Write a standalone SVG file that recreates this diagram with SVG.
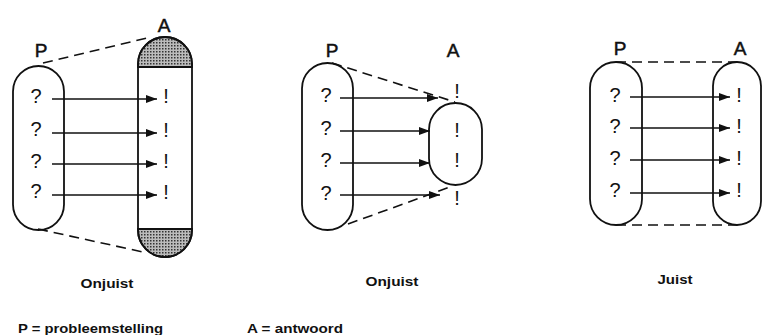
<svg xmlns="http://www.w3.org/2000/svg" width="763" height="335" viewBox="0 0 763 335">
<style>
.pill{fill:none;stroke:#111;stroke-width:1.8}
.dash{fill:none;stroke:#111;stroke-width:1.6;stroke-dasharray:10 6}
.arr{stroke:#111;stroke-width:1.6;fill:none;marker-end:url(#ah)}
.lab{font-family:"Liberation Sans",Arial,sans-serif;font-size:19px;fill:#111;stroke:#111;stroke-width:0.5;text-anchor:middle}
.sym{font-family:"Liberation Sans",Arial,sans-serif;font-size:20px;fill:#111;text-anchor:middle}
.cap{font-family:"Liberation Sans",Arial,sans-serif;font-size:13px;font-weight:bold;fill:#111;text-anchor:middle}
.leg{font-family:"Liberation Sans",Arial,sans-serif;font-size:13px;font-weight:bold;fill:#111}
.hatch{fill:url(#dots);stroke:#111;stroke-width:1.8}
</style>
<defs>
<marker id="ah" markerUnits="userSpaceOnUse" markerWidth="12" markerHeight="8" refX="11" refY="4" orient="auto">
<path d="M0,0 L11,4 L0,8 Z" fill="#111"/>
</marker>
<pattern id="dots" patternUnits="userSpaceOnUse" width="3" height="3">
<rect width="3" height="3" fill="#bbb"/>
<rect width="1.5" height="1.5" fill="#333"/>
</pattern>
</defs>
<rect width="763" height="335" fill="#fff"/>

<g id="connectors">
<line class="dash" x1="43" y1="63" x2="147" y2="38"/>
<line class="dash" x1="38" y1="229" x2="143" y2="252"/>
<line class="arr" x1="52" y1="99" x2="157" y2="99"/>
<line class="arr" x1="52" y1="133" x2="157" y2="133"/>
<line class="arr" x1="52" y1="164" x2="157" y2="164"/>
<line class="arr" x1="52" y1="195" x2="157" y2="195"/>

<line class="dash" x1="332" y1="63" x2="455" y2="102"/>
<line class="dash" x1="348" y1="224" x2="450" y2="187"/>
<line class="arr" x1="340" y1="98" x2="438" y2="98"/>
<line class="arr" x1="340" y1="131" x2="430" y2="131"/>
<line class="arr" x1="340" y1="163" x2="430" y2="163"/>
<line class="arr" x1="340" y1="195" x2="440" y2="195"/>

<line class="dash" x1="616" y1="62" x2="737" y2="62"/>
<line class="dash" x1="616" y1="225" x2="737" y2="225"/>
<line class="arr" x1="630" y1="97" x2="730" y2="97"/>
<line class="arr" x1="630" y1="128" x2="730" y2="128"/>
<line class="arr" x1="630" y1="160" x2="730" y2="160"/>
<line class="arr" x1="630" y1="193" x2="730" y2="193"/>
</g>

<g id="p1">
<rect class="pill" x="13" y="66" width="51" height="164" rx="25.5"/>
<text class="lab" x="41" y="57">P</text>
<text class="sym" x="36" y="103">?</text>
<text class="sym" x="36" y="136">?</text>
<text class="sym" x="36" y="168">?</text>
<text class="sym" x="36" y="198">?</text>
</g>
<g id="a1">
<path class="hatch" d="M138,67 L138,64 A27,27 0 0 1 192,64 L192,67 Z"/>
<path class="hatch" d="M138,229 L138,230 A27,27 0 0 0 192,230 L192,229 Z"/>
<rect class="pill" x="138" y="37" width="54" height="220" rx="27"/>
<text class="lab" x="164" y="32">A</text>
<text class="sym" x="166" y="103">!</text>
<text class="sym" x="166" y="137">!</text>
<text class="sym" x="166" y="168">!</text>
<text class="sym" x="166" y="199">!</text>
</g>
<text class="cap" x="107" y="288" textLength="53" lengthAdjust="spacingAndGlyphs">Onjuist</text>

<g id="p2">
<rect class="pill" x="302" y="63" width="51" height="167" rx="25.5"/>
<text class="lab" x="332" y="57">P</text>
<text class="sym" x="326" y="102">?</text>
<text class="sym" x="326" y="135">?</text>
<text class="sym" x="326" y="167">?</text>
<text class="sym" x="326" y="200">?</text>
</g>
<g id="a2">
<rect class="pill" x="429" y="103" width="53" height="82" rx="26.5"/>
<text class="lab" x="453" y="57">A</text>
<text class="sym" x="457" y="98">!</text>
<text class="sym" x="457" y="137">!</text>
<text class="sym" x="457" y="167">!</text>
<text class="sym" x="457" y="205">!</text>
</g>
<text class="cap" x="392" y="286" textLength="53" lengthAdjust="spacingAndGlyphs">Onjuist</text>

<g id="p3">
<rect class="pill" x="590" y="62" width="52" height="163" rx="26"/>
<text class="lab" x="620" y="55">P</text>
<text class="sym" x="615" y="102">?</text>
<text class="sym" x="615" y="133">?</text>
<text class="sym" x="615" y="165">?</text>
<text class="sym" x="615" y="197">?</text>
</g>
<g id="a3">
<rect class="pill" x="713" y="62" width="48" height="163" rx="24"/>
<text class="lab" x="740" y="55">A</text>
<text class="sym" x="739" y="102">!</text>
<text class="sym" x="739" y="133">!</text>
<text class="sym" x="739" y="165">!</text>
<text class="sym" x="739" y="197">!</text>
</g>
<text class="cap" x="675" y="284" textLength="35" lengthAdjust="spacingAndGlyphs">Juist</text>

<text class="leg" x="18" y="333" textLength="145" lengthAdjust="spacingAndGlyphs">P = probleemstelling</text>
<text class="leg" x="247" y="333" textLength="96" lengthAdjust="spacingAndGlyphs">A = antwoord</text>
</svg>
